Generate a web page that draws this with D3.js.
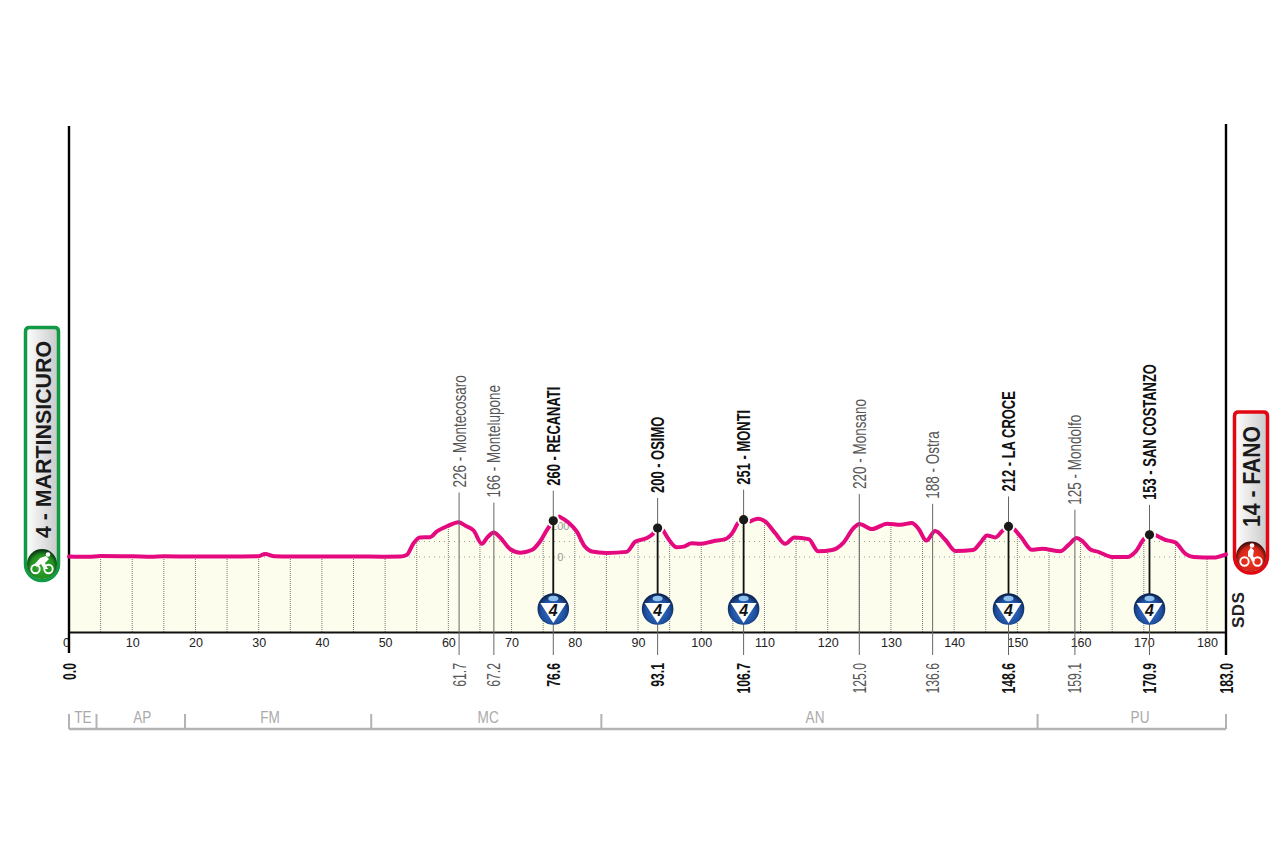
<!DOCTYPE html>
<html>
<head>
<meta charset="utf-8">
<script src="https://cdn.jsdelivr.net/npm/d3@7"></script>
<style>
body { margin: 0; background: #fff; }
svg { display: block; }
text { font-family: "Liberation Sans Narrow", "Liberation Sans", sans-serif; }
</style>
</head>
<body>
<div id="chart"></div>
<script>
const profileKm = [0, 3, 5, 10, 13, 15, 20, 25, 30, 31, 32.5, 35, 40, 45, 50, 52.4, 53.4, 54.5, 55.5, 57.1, 58.2, 60, 61.6, 62.7, 64, 65.3, 66.2, 67.2, 68.2, 69.8, 71.4, 73.2, 74.5, 75.6, 76.6,
  77, 77.6, 79, 80.3, 81.6, 82.7, 85, 88.2, 89.6, 91.4, 92.2, 93.1,
  93.5, 94, 95.1, 96.1, 97.2, 98.5, 99.8, 101.9, 103.8, 104.9, 105.9, 106.7,
  107.2, 107.8, 109, 110.1, 111.7, 113.3, 114.7, 117, 118.5, 120.7, 122.5, 124.1, 125, 127, 129.4, 131.5, 133.3, 134.4, 135.6, 137, 138.6, 140.2, 143, 144.1, 145.2, 146.5, 147.7, 148.6,
  149.1, 149.6, 150.7, 152.3, 153.9, 156.8, 158.1, 159.4, 160.2, 161.5, 162.8, 165, 167.4, 168.7, 170, 170.9,
  171.4, 172, 173.4, 175, 176.6, 177.9, 181, 183];
const profileElev = [3, 1, 6, 5, 2, 5, 3, 3, 5, 20, 5, 3, 3, 4, 2, 3, 13, 89, 126, 128, 165, 202, 224, 202, 171, 85, 128, 158, 126, 50, 28, 45, 100, 175, 234,
  null, 260, 223, 165, 67, 35, 26, 33, 100, 122, 143, 187,
  null, 171, 100, 63, 67, 89, 85, 102, 115, 154, 223, 241,
  null, 230, 247, 230, 154, 85, 126, 115, 37, 45, 93, 187, 213, 180, 215, 208, 219, 180, 106, 167, 111, 39, 45, 89, 139, 126, 171, 197,
  null, 176, 122, 46, 54, 37, 78, 122, 106, 50, 33, 0, 0, 35, 115, 143,
  null, 139, 111, 93, 20, 0, -4, 17];

const distanceTicks = d3.range(0, 181, 10);
const gridKm = d3.range(5, 181, 5);
const levelLines = [0, 100];
const levelLabels = [0, 200];

const placeKm = [61.7, 67.2, 76.6, 93.1, 106.7, 125.0, 136.6, 148.6, 159.1, 170.9];
const placeAltitude = [226, 166, 260, 200, 251, 220, 188, 212, 125, 153];
const placeName = ["Montecosaro", "Montelupone", "RECANATI", "OSIMO", "MONTI", "Monsano", "Ostra", "LA CROCE", "Mondolfo", "SAN COSTANZO"];
const placeClimb = [null, null, 4, 4, 4, null, null, 4, null, 4];

const regionName = ["TE", "AP", "FM", "MC", "AN", "PU"];
const regionEnd = [4.35, 18.35, 47.8, 84.2, 153.2, 183];
const regionLabelKm = [2.2, 11.6, 31.8, 66.3, 118.0, 169.4];

const startLabel = "4 - MARTINSICURO";
const finishLabel = "14 - FANO";
const totalKm = 183;
const floorElev = -484;

const width = 1280, height = 852;
const x = d3.scaleLinear().domain([0, totalKm]).range([69, 1226]);
const y = d3.scaleLinear().domain([0, 100]).range([557, 541.5]);
const baseY = y(floorElev);

const profile = profileKm.map((km, i) => ({ km, elev: profileElev[i] }));
const solid = profile.filter(d => d.elev !== null);

function elevAt(km) {
    const i = d3.bisector(d => d.km).left(solid, km);
    if (i === 0) return solid[0].elev;
    const a = solid[i - 1], b = solid[i];
    if (b.km === km) return b.elev;
    return a.elev + (b.elev - a.elev) * (km - a.km) / (b.km - a.km);
}

const svg = d3.select("#chart").append("svg")
    .attr("width", width)
    .attr("height", height)
    .attr("viewBox", `0 0 ${width} ${height}`);

const defs = svg.append("defs");

const area = d3.area()
    .x(d => x(d.km))
    .y0(baseY)
    .y1(d => y(d.elev))
    .curve(d3.curveMonotoneX);

const line = d3.line()
    .defined(d => d.elev !== null)
    .x(d => x(d.km))
    .y(d => y(d.elev))
    .curve(d3.curveMonotoneX);

defs.append("clipPath").attr("id", "under-profile")
    .append("path").attr("d", area(solid));

const plateFill = defs.append("linearGradient").attr("id", "plate");
plateFill.append("stop").attr("offset", "0%").attr("stop-color", "#fff");
plateFill.append("stop").attr("offset", "100%").attr("stop-color", "#c9c9c9");

function ballGradient(id, inner, mid, outer) {
    const g = defs.append("radialGradient").attr("id", id)
        .attr("cx", "50%").attr("cy", "58%").attr("r", "55%");
    g.append("stop").attr("offset", "0%").attr("stop-color", inner);
    g.append("stop").attr("offset", "70%").attr("stop-color", mid);
    g.append("stop").attr("offset", "100%").attr("stop-color", outer);
}
ballGradient("ball-blue", "#3a78cc", "#1f4f9f", "#0c2450");
ballGradient("ball-green", "#35ad2e", "#22901f", "#0a3512");
ballGradient("ball-red", "#ee3a20", "#d9261a", "#3f0a08");

// filled profile, grid and altitude levels
svg.append("path").attr("d", area(solid)).attr("fill", "#fdfdee");

const under = svg.append("g").attr("clip-path", "url(#under-profile)");
under.selectAll(".grid").data(gridKm).enter().append("line")
    .attr("class", "grid")
    .attr("x1", d => x(d)).attr("x2", d => x(d))
    .attr("y1", y(400)).attr("y2", baseY)
    .attr("stroke", "#777").attr("stroke-width", 1).attr("stroke-dasharray", "1,1");
under.selectAll(".level").data(levelLines).enter().append("line")
    .attr("class", "level")
    .attr("x1", x(0)).attr("x2", x(totalKm))
    .attr("y1", d => y(d)).attr("y2", d => y(d))
    .attr("stroke", "#999").attr("stroke-width", 1).attr("stroke-dasharray", "1,4");

svg.selectAll(".level-label").data(levelLabels).enter().append("text")
    .attr("class", "level-label")
    .attr("x", x(77.7))
    .attr("y", d => y(d) + 4)
    .attr("text-anchor", "middle")
    .attr("font-size", 11)
    .attr("fill", "#999")
    .text(d => d);

// distance axis
const axis = d3.axisBottom(x).tickValues(distanceTicks).tickSize(0).tickPadding(6).tickFormat(d3.format("d"));
const axisG = svg.append("g").attr("transform", `translate(0,${baseY})`).call(axis);
axisG.select(".domain").attr("stroke", "#111").attr("stroke-width", 2.2);
axisG.selectAll("text")
    .attr("font-family", "'Liberation Sans Narrow', sans-serif")
    .attr("font-size", 12.5)
    .attr("fill", "#222")
    .attr("dx", d => d === 0 ? -3 : 0);

// end posts
svg.append("line").attr("x1", x(0)).attr("x2", x(0)).attr("y1", 126).attr("y2", 653)
    .attr("stroke", "#000").attr("stroke-width", 2.4);
svg.append("line").attr("x1", x(totalKm)).attr("x2", x(totalKm)).attr("y1", 124).attr("y2", 655)
    .attr("stroke", "#000").attr("stroke-width", 2.4);

const places = placeKm.map((km, i) => ({
    km, alt: placeAltitude[i], name: placeName[i], climb: placeClimb[i],
    py: y(elevAt(km)), bold: placeClimb[i] !== null
}));
const climbs = places.filter(d => d.climb !== null);
const badgeY = 609;

svg.append("path")
    .attr("d", line(profile))
    .attr("fill", "none")
    .attr("stroke", "#e5097f")
    .attr("stroke-width", 4)
    .attr("stroke-linejoin", "round")
    .attr("stroke-linecap", "round");

// the line breaks around each summit dot
svg.selectAll(".halo").data(climbs).enter().append("circle")
    .attr("class", "halo")
    .attr("cx", d => x(d.km)).attr("cy", d => d.py).attr("r", 6.5)
    .attr("fill", "#fefef6");

svg.selectAll(".leader").data(places).enter().append("line")
    .attr("class", "leader")
    .attr("x1", d => x(d.km)).attr("x2", d => x(d.km))
    .attr("y1", d => d.py - 30).attr("y2", 655)
    .attr("stroke", "#666").attr("stroke-width", 1);

// labels along the leaders
function verticalText(sel, px, py, sx) {
    return sel.attr("transform", d => `translate(${px(d)},${py(d)}) rotate(-90) scale(${sx(d)},1)`);
}

svg.selectAll(".place").data(places).enter().append("text")
    .attr("class", "place")
    .call(verticalText, d => x(d.km) + 6.5, d => d.py - 35, d => d.bold ? 0.72 : 0.75)
    .attr("font-size", 18)
    .attr("font-weight", d => d.bold ? "bold" : "normal")
    .attr("fill", d => d.bold ? "#111" : "#555")
    .text(d => `${d.alt} - ${d.name}`);

const kmLabels = [{ km: 0, bold: true }, ...places, { km: totalKm, bold: true }];
svg.selectAll(".km").data(kmLabels).enter().append("text")
    .attr("class", "km")
    .call(verticalText, d => x(d.km) + 6.5, () => 663, () => 0.68)
    .attr("text-anchor", "end")
    .attr("font-size", 18)
    .attr("font-weight", d => d.bold ? "bold" : "normal")
    .attr("fill", d => d.bold ? "#111" : "#555")
    .text(d => d.km.toFixed(1));

// climbs: stem, summit dot and category badge
svg.selectAll(".stem").data(climbs).enter().append("line")
    .attr("class", "stem")
    .attr("x1", d => x(d.km)).attr("x2", d => x(d.km))
    .attr("y1", d => d.py).attr("y2", badgeY)
    .attr("stroke", "#111").attr("stroke-width", 1.8);
svg.selectAll(".summit").data(climbs).enter().append("circle")
    .attr("class", "summit")
    .attr("cx", d => x(d.km)).attr("cy", d => d.py).attr("r", 4.6)
    .attr("fill", "#1a1a1a");

const badge = svg.selectAll(".badge").data(climbs).enter().append("g")
    .attr("class", "badge")
    .attr("transform", d => `translate(${x(d.km)},${badgeY})`);
badge.append("circle").attr("r", 15.8).attr("fill", "url(#ball-blue)");
badge.append("ellipse").attr("cy", -10.5).attr("rx", 5).attr("ry", 2.8).attr("fill", "#8fc0ee");
badge.append("path").attr("d", "M-13,-6H13L0,14Z").attr("fill", "#fff");
badge.append("text")
    .attr("y", 6.5)
    .attr("text-anchor", "middle")
    .attr("font-size", 16)
    .attr("font-weight", "bold")
    .attr("font-style", "italic")
    .attr("fill", "#111")
    .text(d => d.climb);

// regions
const regionY = 729;
svg.append("line").attr("x1", x(0)).attr("x2", x(totalKm)).attr("y1", regionY).attr("y2", regionY)
    .attr("stroke", "#b3b3b3").attr("stroke-width", 2.4);
svg.selectAll(".region-tick").data([0, ...regionEnd]).enter().append("line")
    .attr("class", "region-tick")
    .attr("x1", d => x(d)).attr("x2", d => x(d))
    .attr("y1", 714).attr("y2", regionY)
    .attr("stroke", "#b3b3b3").attr("stroke-width", 2);
svg.selectAll(".region").data(regionName).enter().append("text")
    .attr("class", "region")
    .attr("transform", (d, i) => `translate(${x(regionLabelKm[i])},723) scale(0.8,1)`)
    .attr("text-anchor", "middle")
    .attr("font-size", 17)
    .attr("fill", "#aaa")
    .text(d => d);

// start and finish plates
function bike(g, riderPath, headX, headY) {
    g.append("circle").attr("cx", -6.5).attr("cy", 5).attr("r", 4.2).attr("fill", "none").attr("stroke", "#fff").attr("stroke-width", 1.9);
    g.append("circle").attr("cx", 6.5).attr("cy", 5).attr("r", 4.2).attr("fill", "none").attr("stroke", "#fff").attr("stroke-width", 1.9);
    g.append("path").attr("d", riderPath).attr("fill", "#fff");
    g.append("circle").attr("cx", headX).attr("cy", headY).attr("r", 2.3).attr("fill", "#fff");
}

function plate(px, top, ballY, stroke, ball, label, textY, textScale, riderPath, headX, headY) {
    const r = 16.5;
    const path = d3.path();
    path.moveTo(px - r, top + 4);
    path.quadraticCurveTo(px - r, top, px - r + 4, top);
    path.lineTo(px + r - 4, top);
    path.quadraticCurveTo(px + r, top, px + r, top + 4);
    path.lineTo(px + r, ballY);
    path.arc(px, ballY, r, 0, Math.PI);
    path.closePath();
    svg.append("path")
        .attr("d", path.toString())
        .attr("fill", "url(#plate)")
        .attr("stroke", stroke).attr("stroke-width", 3.5);
    const b = svg.append("g").attr("transform", `translate(${px},${ballY})`);
    b.append("circle").attr("r", 15).attr("fill", `url(#${ball})`);
    bike(b, riderPath, headX, headY);
    svg.append("text")
        .attr("transform", `translate(${px + 8.5},${textY}) rotate(-90) scale(${textScale},1)`)
        .style("font-family", "'Liberation Sans', sans-serif")
        .attr("font-size", 23)
        .attr("font-weight", "bold")
        .attr("fill", "#1a1a1a")
        .text(label);
}

plate(42, 327.5, 564, "#0f9a43", "ball-green", startLabel, 538, 0.93,
    "M-8,1L-2,-6L4,-8L7,-5L3,-1L6,5L2,5L-1,0L-5,3Z", 6, -9.5);
plate(1251, 412, 556.5, "#e30613", "ball-red", finishLabel, 527, 0.92,
    "M-3,0L-3,-5L0,-9L3,-6L2,-1L4,4L1,5L-1,1Z", 1, -11);

svg.append("text")
    .attr("transform", "translate(1244,628) rotate(-90)")
    .style("font-family", "'Liberation Sans', sans-serif")
    .attr("font-size", 17)
    .attr("font-weight", "bold")
    .attr("letter-spacing", 0.5)
    .attr("fill", "#222")
    .text("SDS");
</script>
</body>
</html>
